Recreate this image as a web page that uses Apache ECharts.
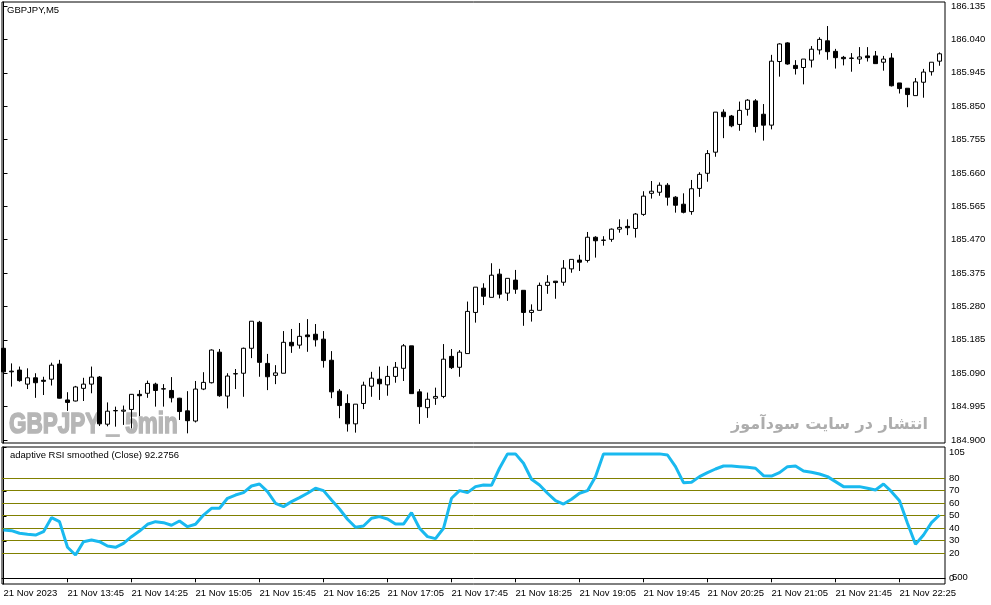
<!DOCTYPE html>
<html><head><meta charset="utf-8">
<script src="https://cdn.jsdelivr.net/npm/echarts@6/dist/echarts.min.js"></script>
<style>html,body{margin:0;padding:0;background:#fff}#c{width:991px;height:605px}</style>
</head><body><div id="c"></div>
<script>
const opens=[185.161,185.096,185.099,185.059,185.077,185.070,185.073,185.116,185.014,185.011,
185.047,185.059,185.079,184.945,184.983,184.982,184.987,185.030,185.033,185.059,
185.045,185.041,185.019,184.983,184.954,185.045,185.063,185.150,185.025,185.088,
185.090,185.161,185.235,185.118,185.084,185.090,185.178,185.170,185.199,185.201,
185.187,185.127,185.039,185.004,184.946,185.004,185.053,185.073,185.057,185.081,
185.104,185.168,185.037,184.992,185.019,185.024,185.138,185.107,185.146,185.263,
185.332,185.306,185.372,185.318,185.355,185.326,185.263,185.269,185.340,185.352,
185.349,185.387,185.412,185.411,185.477,185.468,185.471,185.500,185.508,185.502,
185.542,185.602,185.605,185.625,185.591,185.571,185.550,185.616,185.659,185.719,
185.833,185.822,185.798,185.841,185.865,185.827,185.796,185.977,186.030,185.966,
185.960,185.981,186.010,186.036,186.006,185.989,185.987,185.984,185.993,185.993,
185.975,185.987,185.916,185.901,185.880,185.918,185.948,185.978];
const closes=[185.094,185.094,185.069,185.077,185.063,185.067,185.113,185.019,185.007,185.051,
185.059,185.079,184.946,184.982,184.984,184.985,185.030,185.026,185.061,185.041,
185.046,185.020,184.981,184.955,185.045,185.064,185.156,185.026,185.082,185.089,
185.161,185.238,185.121,185.080,185.091,185.178,185.168,185.195,185.194,185.185,
185.126,185.037,184.998,184.946,185.002,185.056,185.076,185.060,185.081,185.107,
185.168,185.032,184.995,185.016,185.024,185.130,185.106,185.150,185.266,185.335,
185.309,185.369,185.315,185.360,185.329,185.263,185.269,185.340,185.349,185.348,
185.389,185.414,185.406,185.477,185.467,185.469,185.500,185.505,185.504,185.543,
185.594,185.608,185.625,185.591,185.568,185.548,185.615,185.656,185.715,185.833,
185.820,185.794,185.838,185.867,185.792,185.796,185.978,186.027,185.970,185.957,
185.984,186.012,186.040,186.005,185.988,185.985,185.986,185.990,185.988,185.971,
185.984,185.908,185.900,185.883,185.919,185.947,185.975,185.999];
const lows=[185.080,185.052,185.066,185.045,185.020,185.028,185.055,185.018,184.983,185.010,
185.011,185.033,184.940,184.939,184.938,184.943,184.933,184.968,185.020,184.995,
184.995,185.007,184.957,184.919,184.950,185.042,185.061,185.023,184.990,185.045,
185.023,185.133,185.080,185.042,185.059,185.090,185.148,185.160,185.151,185.166,
185.106,185.019,184.962,184.924,184.921,184.988,185.023,185.014,185.026,185.063,
185.068,185.032,184.946,184.963,185.000,185.019,185.102,185.080,185.146,185.234,
185.284,185.306,185.303,185.296,185.316,185.225,185.237,185.269,185.316,185.302,
185.339,185.376,185.381,185.405,185.419,185.453,185.464,185.490,185.483,185.476,
185.538,185.587,185.595,185.567,185.547,185.545,185.541,185.592,185.635,185.706,
185.759,185.790,185.780,185.823,185.775,185.752,185.784,185.934,185.968,185.940,
185.912,185.960,185.997,185.982,185.957,185.966,185.948,185.970,185.977,185.971,
185.951,185.906,185.886,185.847,185.880,185.874,185.937,185.965];
const highs=[185.187,185.118,185.109,185.104,185.090,185.080,185.120,185.128,185.036,185.054,
185.077,185.109,185.082,185.007,184.995,184.998,185.031,185.042,185.069,185.063,
185.059,185.079,185.020,185.039,185.068,185.093,185.158,185.159,185.090,185.102,
185.163,185.238,185.239,185.145,185.113,185.210,185.216,185.233,185.244,185.230,
185.210,185.153,185.045,185.030,185.002,185.066,185.094,185.109,185.111,185.122,
185.173,185.168,185.045,185.035,185.049,185.173,185.159,185.156,185.294,185.335,
185.346,185.403,185.387,185.360,185.384,185.326,185.286,185.348,185.369,185.352,
185.412,185.414,185.427,185.492,185.480,185.480,185.502,185.528,185.528,185.546,
185.608,185.637,185.633,185.631,185.594,185.602,185.640,185.662,185.725,185.833,
185.841,185.825,185.863,185.870,185.870,185.856,185.996,186.029,186.032,185.981,
185.984,186.021,186.046,186.078,186.013,185.993,186.001,186.018,186.018,186.007,
185.993,186.001,185.916,185.901,185.930,185.956,185.975,186.003];
const rsi=[38.6,38.1,36.0,35.2,34.6,37.3,48.5,45.3,24.8,18.6,
29.3,30.6,29.3,25.8,24.8,28.0,33.3,37.8,43.2,45.3,
44.5,42.4,45.8,41.3,43.2,50.6,56.0,56.0,64.0,66.6,
68.5,73.8,75.4,69.3,60.0,57.3,61.3,64.5,68.0,72.0,
70.1,62.6,55.4,47.2,40.8,41.8,48.0,49.3,47.4,43.4,
43.4,52.5,40.0,33.3,31.7,40.0,64.0,70.1,68.5,73.3,
74.6,74.4,88.0,99.5,99.5,92.0,79.2,74.6,68.0,62.1,
59.4,63.2,68.0,70.1,81.3,99.5,99.5,99.5,99.5,99.5,
99.5,99.5,99.5,98.6,89.3,76.5,76.8,81.3,84.5,87.4,
89.8,89.8,89.3,88.8,88.0,82.1,81.8,84.5,89.3,89.8,
85.8,84.8,83.4,81.3,77.3,73.3,73.3,73.3,72.0,70.6,
75.4,69.3,62.1,44.0,27.2,34.6,44.5,50.6];
const priceTicks=[184.900,184.995,185.090,185.185,185.280,185.375,185.470,185.565,185.660,185.755,185.850,185.945,186.040,186.135];
const rsiTicks=[0,20,30,40,50,60,70,80,105];
const levels=[80,70,60,50,40,30,20];
const timeTickIdx=[0,8,16,24,32,40,48,56,64,72,80,88,96,104,112];
const timeTickLabels=['21 Nov 2023','21 Nov 13:45','21 Nov 14:25','21 Nov 15:05','21 Nov 15:45','21 Nov 16:25','21 Nov 17:05','21 Nov 17:45','21 Nov 18:25','21 Nov 19:05','21 Nov 19:45','21 Nov 20:25','21 Nov 21:05','21 Nov 21:45','21 Nov 22:25'];
const titleText='GBPJPY,M5';
const indText='adaptive RSI smoothed (Close) 92.2756';
const wmText='GBPJPY _ 5min';
const faText='انتشار در سایت سودآموز';

const FONT='Liberation Sans, Arial, sans-serif';
const chart=echarts.init(document.getElementById('c'),null,{renderer:'canvas'});
const candleData=opens.map((o,i)=>[i,o,closes[i],lows[i],highs[i]]);
const rsiData=rsi.map((v,i)=>[i,v]);
const levelData=levels.map(v=>[0,v]);
chart.setOption({
  animation:false,
  backgroundColor:'#fff',
  grid:[
    {left:2,top:2,width:943,height:441,show:true,borderColor:'#000',borderWidth:1,backgroundColor:'transparent'},
    {left:2,top:447,width:943,height:137,show:true,borderColor:'#000',borderWidth:1,backgroundColor:'transparent'}
  ],
  xAxis:[
    {type:'value',gridIndex:0,min:-0.1875,max:117.6875,show:false},
    {type:'value',gridIndex:1,min:-0.1875,max:117.6875,
     axisLine:{show:true,lineStyle:{color:'#000',width:1}},
     axisTick:{show:true,customValues:timeTickIdx,length:4,lineStyle:{color:'#000'}},
     axisLabel:{customValues:timeTickIdx,formatter:v=>timeTickLabels[timeTickIdx.indexOf(Math.round(v))]||'',
       align:'left',margin:4,fontSize:9.5,color:'#000',fontFamily:FONT},
     splitLine:{show:false}}
  ],
  yAxis:[
    {type:'value',gridIndex:0,position:'right',min:184.8915,max:186.1464,
     axisLine:{show:true,lineStyle:{color:'#000'}},
     axisTick:{show:true,customValues:priceTicks,length:4,lineStyle:{color:'#000'}},
     axisLabel:{customValues:priceTicks,formatter:v=>v.toFixed(3),margin:6,fontSize:9.5,color:'#000',fontFamily:FONT},
     splitLine:{show:false}},
    {type:'value',gridIndex:1,position:'right',min:-4.56,max:105,
     axisLine:{show:true,lineStyle:{color:'#000'}},
     axisTick:{show:true,customValues:rsiTicks,length:3,lineStyle:{color:'#000'}},
     axisLabel:{customValues:rsiTicks,formatter:v=>String(v),margin:4,fontSize:9.5,color:'#000',fontFamily:FONT,
       verticalAlignMaxLabel:'top'},
     splitLine:{show:false}}
  ],
  series:[
    {type:'candlestick',xAxisIndex:0,yAxisIndex:0,data:candleData,encode:{x:0,y:[1,2,3,4]},
     barWidth:5,z:3,
     itemStyle:{color:'#fff',color0:'#000',borderColor:'#000',borderColor0:'#000',borderColorDoji:'#000',borderWidth:1}},
    {type:'custom',xAxisIndex:1,yAxisIndex:1,data:levelData,encode:{x:0,y:1},z:1,silent:true,
     renderItem:function(params,api){
       const cs=params.coordSys;
       const y=Math.floor(api.coord([0,api.value(1)])[1])+0.5;
       return {type:'line',shape:{x1:cs.x,y1:y,x2:cs.x+cs.width,y2:y},style:{stroke:'#808000',lineWidth:1}};
     }},
    {type:'line',xAxisIndex:1,yAxisIndex:1,data:rsiData,z:5,showSymbol:false,
     lineStyle:{color:'#19b9ef',width:3},itemStyle:{color:'#19b9ef'}}
  ],
  graphic:[
    {type:'text',left:7,top:5,z:10,style:{text:titleText,fontSize:9.5,fontFamily:FONT,fill:'#000'}},
    {type:'text',left:10,top:450,z:10,style:{text:indText,fontSize:9.5,fontFamily:FONT,fill:'#000'}},
    {type:'text',x:9,y:425,scaleX:0.75,z:0,style:{text:wmText,fontSize:30,fontWeight:'bold',
      fontFamily:'Liberation Sans, Arial, sans-serif',fill:'#b6b6b6',stroke:'#b6b6b6',lineWidth:1.6,verticalAlign:'middle'}},
    {type:'text',x:928,y:425,z:0,style:{text:faText,fontSize:16,fontWeight:'bold',
      fontFamily:'DejaVu Sans, sans-serif',fill:'#adadad',align:'right',verticalAlign:'middle'}},
    {type:'text',x:952,y:577,z:10,style:{text:'500',fontSize:9.5,fontFamily:FONT,fill:'#000',verticalAlign:'middle'}}
  ]
});
</script></body></html>
